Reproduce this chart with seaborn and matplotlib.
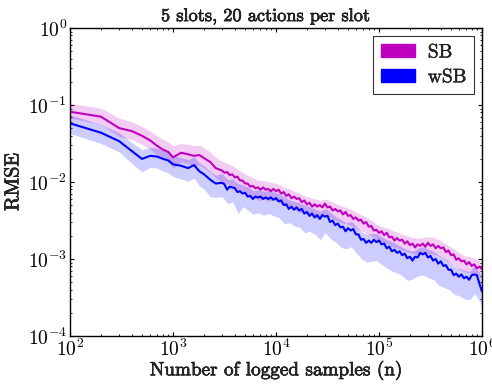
import numpy as np
import pandas as pd
import matplotlib
matplotlib.use("Agg")
import matplotlib.pyplot as plt
import matplotlib.patheffects as pe
from matplotlib.patches import Patch
from matplotlib.ticker import LogLocator, FuncFormatter, NullFormatter
import seaborn as sns

# ---------------- data ----------------
# grid for the shaded bands
n_samples = [100, 200, 300, 400, 500, 600, 700, 800, 900, 1000,
             1200, 1400, 1600, 1800, 2000, 2300, 2600, 3000, 3400, 3800,
             4300, 4800, 5400, 6000, 6800, 7600, 8500, 9500, 10600, 12000,
             13500, 15000, 17000, 19000, 21000, 24000, 27000, 30000, 34000, 38000,
             43000, 48000, 54000, 60000, 68000, 76000, 85000, 95000, 106000, 120000,
             135000, 150000, 170000, 190000, 210000, 240000, 270000, 300000, 340000, 380000,
             430000, 480000, 540000, 600000, 680000, 760000, 850000, 950000, 1000000]

# log10(RMSE) band edges
sb_upper = [-0.98, -1.04, -1.17, -1.22, -1.28, -1.34, -1.40, -1.45, -1.48, -1.53,
            -1.50, -1.51, -1.53, -1.52, -1.56, -1.61, -1.68, -1.73, -1.76, -1.79,
            -1.84, -1.88, -1.92, -1.95, -1.98, -1.98, -2.00, -2.01, -2.03, -2.07,
            -2.09, -2.12, -2.15, -2.18, -2.20, -2.22, -2.24, -2.22, -2.25, -2.28,
            -2.31, -2.33, -2.36, -2.39, -2.43, -2.46, -2.50, -2.55, -2.58, -2.60,
            -2.63, -2.65, -2.68, -2.70, -2.72, -2.73, -2.72, -2.71, -2.72, -2.75,
            -2.79, -2.83, -2.87, -2.92, -2.96, -2.97, -2.99, -3.02, -3.03]
sb_lower = [-1.17, -1.25, -1.41, -1.45, -1.51, -1.57, -1.65, -1.70, -1.74, -1.82,
            -1.74, -1.76, -1.79, -1.78, -1.82, -1.87, -1.95, -2.00, -2.02, -2.05,
            -2.10, -2.14, -2.17, -2.20, -2.24, -2.22, -2.25, -2.23, -2.27, -2.29,
            -2.31, -2.34, -2.40, -2.39, -2.42, -2.47, -2.45, -2.43, -2.46, -2.50,
            -2.53, -2.54, -2.57, -2.60, -2.64, -2.67, -2.70, -2.75, -2.78, -2.80,
            -2.84, -2.86, -2.89, -2.91, -2.93, -2.94, -2.94, -2.93, -2.94, -2.96,
            -3.00, -3.04, -3.08, -3.13, -3.17, -3.18, -3.20, -3.23, -3.25]
wsb_upper = [-1.13, -1.25, -1.36, -1.49, -1.58, -1.55, -1.56, -1.59, -1.61, -1.66,
             -1.68, -1.71, -1.67, -1.75, -1.79, -1.86, -1.91, -1.89, -1.97, -1.96,
             -2.02, -2.04, -2.07, -2.11, -2.10, -2.12, -2.11, -2.13, -2.15, -2.19,
             -2.23, -2.25, -2.27, -2.30, -2.32, -2.35, -2.38, -2.34, -2.40, -2.45,
             -2.49, -2.53, -2.51, -2.57, -2.65, -2.68, -2.67, -2.67, -2.71, -2.75,
             -2.78, -2.81, -2.85, -2.88, -2.90, -2.86, -2.84, -2.87, -2.90, -2.95,
             -2.99, -3.03, -3.09, -3.12, -3.15, -3.16, -3.08, -3.18, -3.30]
wsb_lower = [-1.37, -1.50, -1.61, -1.76, -1.87, -1.81, -1.82, -1.86, -1.88, -1.93,
             -1.96, -1.99, -1.95, -2.05, -2.09, -2.19, -2.20, -2.19, -2.28, -2.26,
             -2.41, -2.32, -2.37, -2.42, -2.40, -2.43, -2.41, -2.44, -2.46, -2.54,
             -2.53, -2.57, -2.59, -2.66, -2.64, -2.68, -2.75, -2.66, -2.74, -2.78,
             -2.85, -2.87, -2.84, -2.92, -3.00, -3.04, -3.03, -3.02, -3.07, -3.12,
             -3.16, -3.18, -3.22, -3.28, -3.26, -3.22, -3.21, -3.24, -3.27, -3.34,
             -3.37, -3.40, -3.46, -3.48, -3.52, -3.53, -3.45, -3.55, -3.64]

# grid for the mean lines (denser where the curves are noisy)
n_line = [100, 200, 300, 400, 500, 600, 700, 800, 900, 1000,
          1200, 1400, 1600, 1800, 2000, 2300, 2600,
          2985, 3162, 3350, 3548, 3758, 3981, 4217, 4467, 4732, 5012,
          5309, 5623, 5957, 6310, 6683, 7079, 7499, 7943, 8414, 8913, 9441,
          10000, 10593, 11220, 11885, 12589, 13335, 14125, 14962, 15849, 16788,
          17783, 18836, 19953, 21135, 22387, 23714, 25119, 26607, 28184, 29854,
          31623, 33497, 35481, 37584, 39811, 42170, 44668, 47315, 50119, 53088,
          56234, 59566, 63096, 66834, 70795, 74989, 79433, 84140, 89125, 94406,
          100000, 105925, 112202, 118850, 125893, 133352, 141254, 149624, 158489, 167880,
          177828, 188365, 199526, 211349, 223872, 237137, 251189, 266073, 281838, 298538,
          316228, 334965, 354813, 375837, 398107, 421697, 446684, 473151, 501187, 530884,
          562341, 595662, 630957, 668344, 707946, 749894, 794328, 841395, 891251, 944061,
          1000000]

# log10(RMSE) mean curves
sb_mean = [-1.087, -1.152, -1.30, -1.34, -1.40, -1.46, -1.53, -1.58, -1.61, -1.68,
           -1.62, -1.64, -1.66, -1.65, -1.69, -1.74, -1.82,
           -1.85, -1.88, -1.87, -1.91, -1.90, -1.94, -1.93, -1.98, -1.98, -2.02,
           -2.02, -2.06, -2.05, -2.08, -2.07, -2.10, -2.07, -2.10, -2.09, -2.12, -2.09,
           -2.12, -2.10, -2.15, -2.13, -2.18, -2.16, -2.21, -2.19, -2.22, -2.21,
           -2.26, -2.24, -2.29, -2.27, -2.32, -2.29, -2.32, -2.30, -2.33, -2.28,
           -2.33, -2.32, -2.37, -2.35, -2.38, -2.37, -2.42, -2.39, -2.44, -2.43,
           -2.48, -2.46, -2.50, -2.49, -2.54, -2.52, -2.58, -2.57, -2.63, -2.62,
           -2.66, -2.64, -2.69, -2.66, -2.72, -2.71, -2.76, -2.73, -2.76, -2.75,
           -2.80, -2.77, -2.82, -2.80, -2.85, -2.81, -2.83, -2.80, -2.84, -2.79,
           -2.83, -2.81, -2.86, -2.83, -2.86, -2.85, -2.91, -2.89, -2.95, -2.94,
           -3.01, -2.99, -3.03, -3.02, -3.07, -3.04, -3.09, -3.07, -3.12, -3.10,
           -3.13]
wsb_mean = [-1.238, -1.36, -1.47, -1.60, -1.70, -1.66, -1.67, -1.70, -1.72, -1.77,
            -1.79, -1.82, -1.78, -1.86, -1.90, -1.97, -2.02,
            -2.01, -2.03, -2.10, -2.06, -2.07, -2.08, -2.13, -2.12, -2.15, -2.14,
            -2.19, -2.18, -2.22, -2.19, -2.20, -2.19, -2.22, -2.20, -2.22, -2.20, -2.23,
            -2.21, -2.25, -2.24, -2.30, -2.29, -2.35, -2.32, -2.36, -2.33, -2.37,
            -2.35, -2.41, -2.39, -2.44, -2.41, -2.46, -2.43, -2.48, -2.43, -2.45,
            -2.44, -2.52, -2.50, -2.56, -2.54, -2.59, -2.58, -2.64, -2.60, -2.63,
            -2.61, -2.68, -2.68, -2.75, -2.74, -2.79, -2.76, -2.79, -2.75, -2.78,
            -2.76, -2.81, -2.80, -2.86, -2.84, -2.90, -2.88, -2.92, -2.90, -2.95,
            -2.93, -2.99, -2.97, -3.02, -2.97, -2.98, -2.92, -2.94, -2.92, -2.98,
            -2.96, -3.02, -3.00, -3.06, -3.03, -3.09, -3.08, -3.14, -3.14, -3.21,
            -3.19, -3.23, -3.20, -3.25, -3.23, -3.27, -3.21, -3.20, -3.21, -3.32,
            -3.42]

series_names = ["SB", "wSB"]
title_text = "5 slots, 20 actions per slot"
x_label = "Number of logged samples (n)"
y_label = "RMSE"

# ---------------- style ----------------
sns.set_style("ticks")
plt.rcParams["mathtext.fontset"] = "cm"
plt.rcParams["mathtext.default"] = "rm"
plt.rcParams["font.family"] = ["cmr10", "DejaVu Serif"]
plt.rcParams["axes.unicode_minus"] = False

colors = {"SB": (0.75, 0.0, 0.75), "wSB": (0.0, 0.0, 1.0)}
heavy = [pe.withStroke(linewidth=0.45, foreground="black")]

df = pd.DataFrame({
    "n": n_line * 2,
    "rmse": list(10 ** np.array(sb_mean)) + list(10 ** np.array(wsb_mean)),
    "method": ["SB"] * len(n_line) + ["wSB"] * len(n_line),
})

fig = plt.figure(figsize=(4.92, 3.85), dpi=100)
ax = fig.add_axes([70 / 492, (385 - 336) / 385, 412 / 492, 308 / 385])

ax.fill_between(n_samples, 10 ** np.array(sb_lower), 10 ** np.array(sb_upper),
                color=colors["SB"], alpha=0.2, linewidth=0)
ax.fill_between(n_samples, 10 ** np.array(wsb_lower), 10 ** np.array(wsb_upper),
                color=colors["wSB"], alpha=0.2, linewidth=0)

sns.lineplot(data=df, x="n", y="rmse", hue="method", hue_order=series_names,
             palette=colors, errorbar=None, legend=False, linewidth=1.5, ax=ax)

ax.set_xscale("log")
ax.set_yscale("log")
ax.set_xlim(1e2, 1e6)
ax.set_ylim(1e-4, 1e0)

fmt = FuncFormatter(lambda v, p: r"$10^{%d}$" % int(round(np.log10(v))))
ax.xaxis.set_major_formatter(fmt)
ax.yaxis.set_major_formatter(fmt)
ax.xaxis.set_minor_locator(LogLocator(base=10, subs=np.arange(2, 10)))
ax.yaxis.set_minor_locator(LogLocator(base=10, subs=np.arange(2, 10)))
ax.xaxis.set_minor_formatter(NullFormatter())
ax.yaxis.set_minor_formatter(NullFormatter())
ax.tick_params(which="both", direction="in", top=True, right=True, colors="black",
               labelsize=14)
ax.tick_params(which="major", length=3.0, width=0.8)
ax.tick_params(which="minor", length=1.6, width=0.6)
ax.tick_params(axis="x", which="major", pad=2)
ax.tick_params(axis="y", which="major", pad=2)
for s in ax.spines.values():
    s.set_color("black")
    s.set_linewidth(1.0)

ax.set_xlabel(x_label, fontfamily="cmr10", fontsize=13.8, labelpad=0,
              path_effects=heavy)
ax.set_ylabel(y_label, fontfamily="cmr10", fontsize=14.5, labelpad=4,
              path_effects=heavy)
ax.set_title(title_text, fontfamily="cmr10", fontsize=13.2, pad=5,
             x=(265.5 - 70) / 412, path_effects=heavy)

handles = [Patch(facecolor=colors[s], edgecolor=colors[s]) for s in series_names]
leg = ax.legend(handles, series_names, loc="upper right", frameon=True, fancybox=False,
                prop={"family": "cmr10", "size": 14}, handlelength=1.75, handleheight=0.65,
                borderpad=0.4, labelspacing=0.35, handletextpad=0.65,
                borderaxespad=0.4)
leg.get_frame().set_edgecolor("black")
leg.get_frame().set_linewidth(0.8)
for t in leg.get_texts():
    t.set_path_effects([pe.withStroke(linewidth=0.3, foreground="black")])

fig.savefig("out.png", dpi=100)
